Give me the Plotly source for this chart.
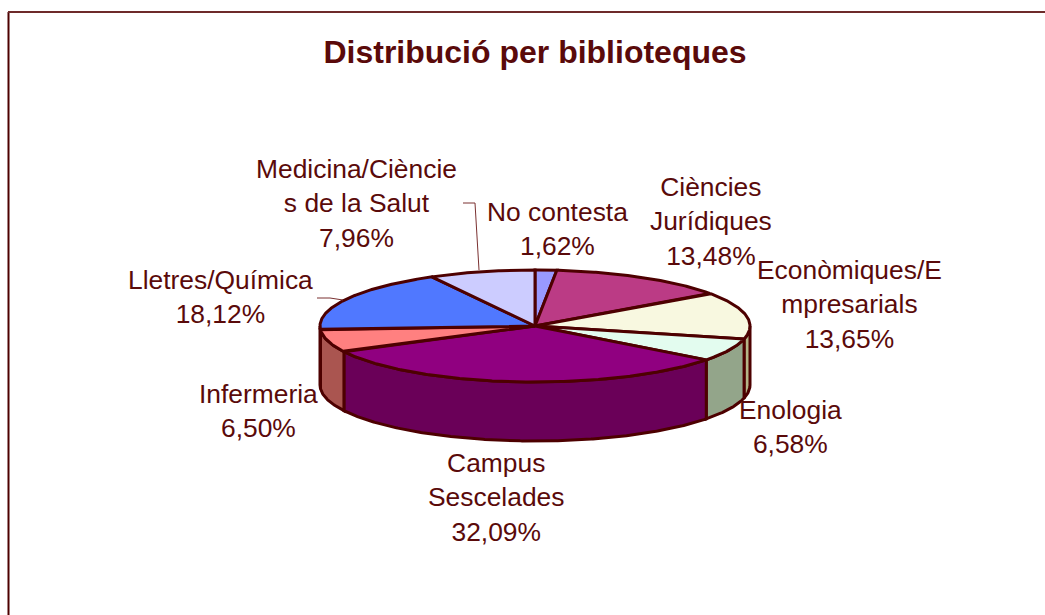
import numpy as np
import plotly.graph_objects as go

TITLE = "Distribució per biblioteques"
categories = ["No contesta", "Ciències<br>Jurídiques", "Econòmiques/E<br>mpresarials", "Enologia",
              "Campus<br>Sescelades", "Infermeria", "Lletres/Química", "Medicina/Cièncie<br>s de la Salut"]
shares = [1.62, 13.48, 13.65, 6.58, 32.09, 6.50, 18.12, 7.96]
top_colors = ["#9999FF", "#BB3B85", "#F8F8E0", "#E3FCEF", "#900080", "#FF8080", "#5078FF", "#CCCCFF"]
side_colors = ["#6F6FB8", "#88265F", "#B5B587", "#93A58A", "#6A0058", "#AA5550", "#3A57B8", "#9393B8"]
label_centres = [(557.5, 229), (710.5, 221), (849.5, 304.5), (790, 427), (496, 497), (258, 411), (220, 297), (356.5, 203)]

INK = "#4D0000"
TEXT = "#5A0A0A"
FONT = "Liberation Sans, Arial, sans-serif"
CX, CY, RX, RY, DEPTH = 535, 326, 215, 56, 59


def ellipse(a0, a1, dy=0):
    t = np.radians(np.linspace(a0, a1, max(int(abs(a1 - a0) * 2), 2)))
    return CX + RX * np.sin(t), CY + dy - RY * np.cos(t)


edges = np.concatenate([[0], np.cumsum(shares)]) * 360 / sum(shares)
fig = go.Figure()

# side walls: only the part of each slice on the front half shows
for a0, a1, col in zip(edges[:-1], edges[1:], side_colors):
    lo, hi = max(a0, 90), min(a1, 270)
    if hi <= lo:
        continue
    xt, yt = ellipse(lo, hi)
    xb, yb = ellipse(hi, lo, DEPTH)
    fig.add_trace(go.Scatter(x=np.r_[xt, xb, xt[0]], y=np.r_[yt, yb, yt[0]], mode="lines", fill="toself",
                             fillcolor=col, line=dict(color=INK, width=3), hoverinfo="skip", showlegend=False))

# top faces
for name, value, a0, a1, col in zip(categories, shares, edges[:-1], edges[1:], top_colors):
    xa, ya = ellipse(a0, a1)
    fig.add_trace(go.Scatter(x=np.r_[CX, xa, CX], y=np.r_[CY, ya, CY], mode="lines", fill="toself",
                             fillcolor=col, line=dict(color=INK, width=3), showlegend=False,
                             name=name.replace("<br>", ""), text=f"{value:.2f}%".replace(".", ","), hoverinfo="name+text"))

# leader lines
for lx, ly in [([463, 475, 479], [203, 203, 270]), ([317, 330, 343], [298, 298, 300])]:
    fig.add_trace(go.Scatter(x=lx, y=ly, mode="lines", line=dict(color="#7A3030", width=1),
                             hoverinfo="skip", showlegend=False))

# chart frame
fig.add_shape(type="line", x0=8.5, x1=8.5, y0=12, y1=615, line=dict(color=INK, width=2))
fig.add_shape(type="line", x0=8, x1=1045, y0=12, y1=12, line=dict(color="#6E2A2A", width=2))

for name, value, (lx, ly) in zip(categories, shares, label_centres):
    fig.add_annotation(x=lx, y=ly, text=f"{name}<br>{value:.2f}%".replace(".", ","), showarrow=False,
                       xanchor="center", yanchor="middle", align="center",
                       font=dict(family=FONT, size=26.4, color=TEXT))

fig.update_layout(
    title=dict(text=f"<b>{TITLE}</b>", x=535 / 1045, y=1 - 52 / 615, xanchor="center", yanchor="middle",
               font=dict(family=FONT, size=32, color=TEXT)),
    width=1045, height=615, margin=dict(l=0, r=0, t=0, b=0),
    paper_bgcolor="white", plot_bgcolor="white",
    xaxis=dict(range=[0, 1045], visible=False, fixedrange=True),
    yaxis=dict(range=[615, 0], visible=False, fixedrange=True),
)
fig.write_html("out.html", config={"displayModeBar": False},
               post_script="document.body.style.margin='0';document.body.style.overflow='hidden';")
